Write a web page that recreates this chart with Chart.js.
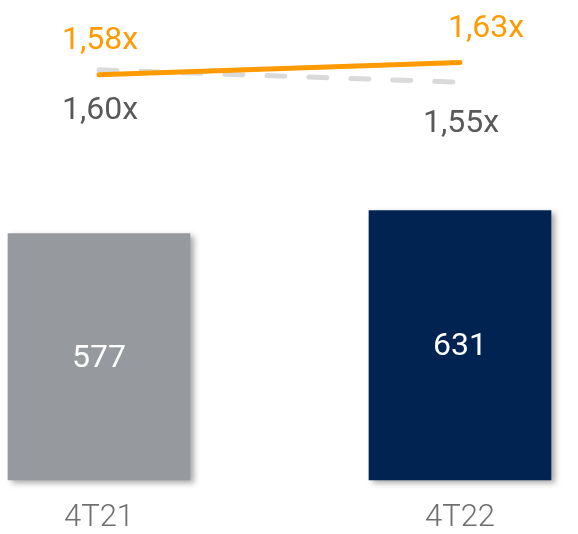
<!DOCTYPE html>
<html>
<head>
<meta charset="utf-8">
<script src="https://cdn.jsdelivr.net/npm/chart.js@4"></script>
<style>
  html, body { margin: 0; padding: 0; background: #fff; }
  #wrap { width: 578px; height: 534px; position: relative; }
</style>
</head>
<body>
<div id="wrap"><canvas id="grafica"></canvas></div>
<script>
// ── Datos ─────────────────────────────────────────────────
const periodos = ['4T21', '4T22'];
const posiciones = [0, 1];
const volumen = [577, 631];
const ratioNaranja = [1.58, 1.63];
const ratioGris = [1.60, 1.55];

// ── Estilos ───────────────────────────────────────────────
const coloresBarra = ['#96999d', '#002352'];
const naranja = '#ff9a00';
const grisLinea = '#dadada';
const grisTexto = '#595959';
const fuente = 'Roboto';

const puntos = arr => arr.map((v, i) => ({ x: posiciones[i], y: v }));
const fmtRatio = v => v.toFixed(2).replace('.', ',') + 'x';

// ── Sombra de las barras ──────────────────────────────────
const sombraBarras = {
  id: 'sombraBarras',
  beforeDatasetDraw(chart, args) {
    if (chart.data.datasets[args.index].type !== 'bar') return;
    const ctx = chart.ctx;
    ctx.save();
    ctx.shadowColor = 'rgba(0,0,0,0.35)';
    ctx.shadowBlur = 6;
    ctx.shadowOffsetX = 4;
    ctx.shadowOffsetY = 3;
  },
  afterDatasetDraw(chart, args) {
    if (chart.data.datasets[args.index].type !== 'bar') return;
    chart.ctx.restore();
  }
};

// ── Etiquetas de valores ──────────────────────────────────
const etiquetas = {
  id: 'etiquetas',
  afterDatasetsDraw(chart) {
    const ctx = chart.ctx;
    ctx.save();
    ctx.textAlign = 'center';
    ctx.textBaseline = 'middle';
    chart.data.datasets.forEach((ds, i) => {
      const meta = chart.getDatasetMeta(i);
      const et = ds.etiqueta;
      meta.data.forEach((el, j) => {
        const v = ds.data[j].y;
        ctx.font = '32px ' + fuente;
        ctx.fillStyle = et.color;
        if (ds.type === 'bar') {
          ctx.fillText(String(v), el.x, (el.y + el.base) / 2 + 2);
        } else {
          ctx.fillText(fmtRatio(v), el.x + et.dx[j], el.y + et.dy[j]);
        }
      });
    });
    ctx.restore();
  }
};

function crearGrafica() {
  const canvas = document.getElementById('grafica');

  new Chart(canvas, {
    data: {
      datasets: [
        {
          type: 'bar',
          data: puntos(volumen),
          backgroundColor: coloresBarra,
          barThickness: 182,
          yAxisID: 'y',
          clip: false,
          etiqueta: { color: '#ffffff' }
        },
        {
          type: 'line',
          data: puntos(ratioNaranja),
          borderColor: naranja,
          borderWidth: 5,
          borderCapStyle: 'round',
          pointRadius: 0,
          yAxisID: 'y2',
          clip: false,
          etiqueta: { color: naranja, dx: [1, 26], dy: [-34, -33] }
        },
        {
          type: 'line',
          data: puntos(ratioGris),
          borderColor: grisLinea,
          borderWidth: 5,
          borderCapStyle: 'round',
          borderDash: [18, 24],
          pointRadius: 0,
          yAxisID: 'y2',
          clip: false,
          etiqueta: { color: grisTexto, dx: [1, 1], dy: [41, 42] }
        }
      ]
    },
    options: {
      responsive: true,
      maintainAspectRatio: false,
      animation: false,
      layout: { padding: 0 },
      plugins: {
        legend: { display: false },
        tooltip: { enabled: false }
      },
      scales: {
        x: {
          type: 'linear',
          offset: false,
          min: -0.2742,
          max: 1.3269,
          grid: { display: false, offset: false, tickLength: 23 },
          border: { display: false },
          afterBuildTicks: s => { s.ticks = posiciones.map(v => ({ value: v })); },
          ticks: {
            callback: v => periodos[v] ?? '',
            color: '#6f6f6f',
            padding: 0,
            maxRotation: 0,
            font: { family: fuente, size: 31, weight: 300, lineHeight: 1 }
          }
        },
        y: { display: false, min: 0, max: 1124 },
        y2: { display: false, min: -0.064, max: 1.8834 }
      }
    },
    plugins: [sombraBarras, etiquetas]
  });
}

crearGrafica();
</script>
</body>
</html>
